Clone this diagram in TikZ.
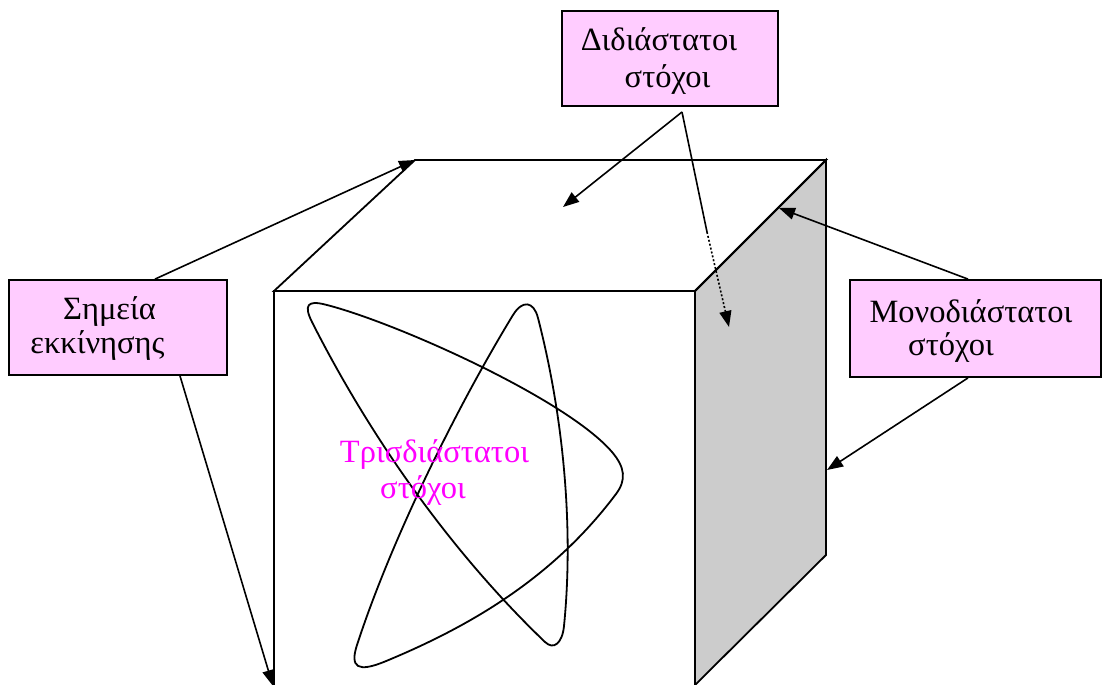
\documentclass[tikz,border=0pt]{standalone}
\usepackage{fontspec}
\setmainfont{Liberation Serif}
\usetikzlibrary{arrows.meta}
\definecolor{pinkbg}{HTML}{FFCCFF}
\definecolor{facegray}{HTML}{CCCCCC}
\definecolor{magtext}{HTML}{FF00FF}
\begin{document}
\begin{tikzpicture}[x=1pt,y=-1pt,line width=1.8pt,line join=miter,
  pinkbox/.style={draw,fill=pinkbg,inner sep=0pt,line width=1.8pt},
  lbl/.style={font=\fontsize{32.5}{38}\selectfont,anchor=base,inner sep=0pt},
  arr/.style={line width=1.6pt,-{Triangle[length=16pt,width=12pt]}},
  dotline/.style={line width=1.6pt,dash pattern=on 2pt off 2pt}]
\useasboundingbox (0,0) rectangle (1104,685);
% cube
\coordinate (FTL) at (274,291);
\coordinate (FTR) at (695,291);
\coordinate (FBL) at (274,685);
\coordinate (FBR) at (695,685);
\coordinate (BTL) at (415,160);
\coordinate (BTR) at (826,160);
\coordinate (BBR) at (826,555);
\filldraw[fill=facegray] (FTR) -- (BTR) -- (BBR) -- (FBR) -- cycle;
\draw (FTL) -- (BTL) -- (BTR) -- (FTR) -- cycle;
\draw (FBL) -- (FTL) -- (FTR) -- (FBR);
% loop curve
\draw[line width=1.8pt]
  (325,304.5) .. controls (395,322) and (566.5,398.8) .. (612,452)
  .. controls (625.2,467.5) and (626.4,480.1) .. (616,494)
  .. controls (556,574) and (477,623.5) .. (385,661.5)
  .. controls (358,672.6) and (349.6,667.7) .. (357,645)
  .. controls (391,540.5) and (456,408.5) .. (513,315)
  .. controls (522.4,299.7) and (533.7,301) .. (538,318)
  .. controls (563,415) and (574,526) .. (564,626)
  .. controls (562.3,643.2) and (553.7,650.4) .. (545,642)
  .. controls (451.4,552.3) and (370.5,437.7) .. (312,322)
  .. controls (303.6,305.3) and (307.5,300.1) .. cycle;
% boxes
\node[pinkbox,minimum width=216pt,minimum height=95pt] (bdi) at (670,58.5) {};
\node[pinkbox,minimum width=218pt,minimum height=95pt] (bsi) at (118,327.5) {};
\node[pinkbox,minimum width=251pt,minimum height=97pt] (bmo) at (975.5,328.5) {};
\node[lbl] (tdi1) at (659,51) {Διδιάστατοι};
\node[lbl] (tdi2) at (667.5,87.5) {στόχοι};
\node[lbl] (tsi1) at (109.5,319.5) {Σημεία};
\node[lbl] (tsi2) at (97.5,353.5) {εκκίνησης};
\node[lbl] (tmo1) at (971,322.5) {Μονοδιάστατοι};
\node[lbl] (tmo2) at (951,355.5) {στόχοι};
\node[lbl,text=magtext] (ttr1) at (434.5,462) {Τρισδιάστατοι};
\node[lbl,text=magtext] (ttr2) at (423,498.5) {στόχοι};
% connectors
\coordinate (apex) at (682,112);
\coordinate (topmid) at (563,207);
\coordinate (dotstart) at (707,232);
\coordinate (sideup) at (729,327);
\coordinate (edgehit) at (779,208);
\coordinate (sidehit) at (827,470);
\draw[arr] ([xshift=37pt]bsi.north) -- (BTL);
\draw[arr] ([xshift=62pt]bsi.south) -- ([xshift=-1pt,yshift=-1pt]FBL);
\draw[line width=1.6pt] (apex) -- (dotstart);
\draw[arr] (apex) -- (topmid);
\draw[dotline,-{Triangle[length=16pt,width=12pt]}] (dotstart) -- (sideup);
\draw[arr] ([xshift=-7.5pt]bmo.north) -- (edgehit);
\draw[arr] ([xshift=-7.5pt]bmo.south) -- (sidehit);
\end{tikzpicture}
\end{document}
